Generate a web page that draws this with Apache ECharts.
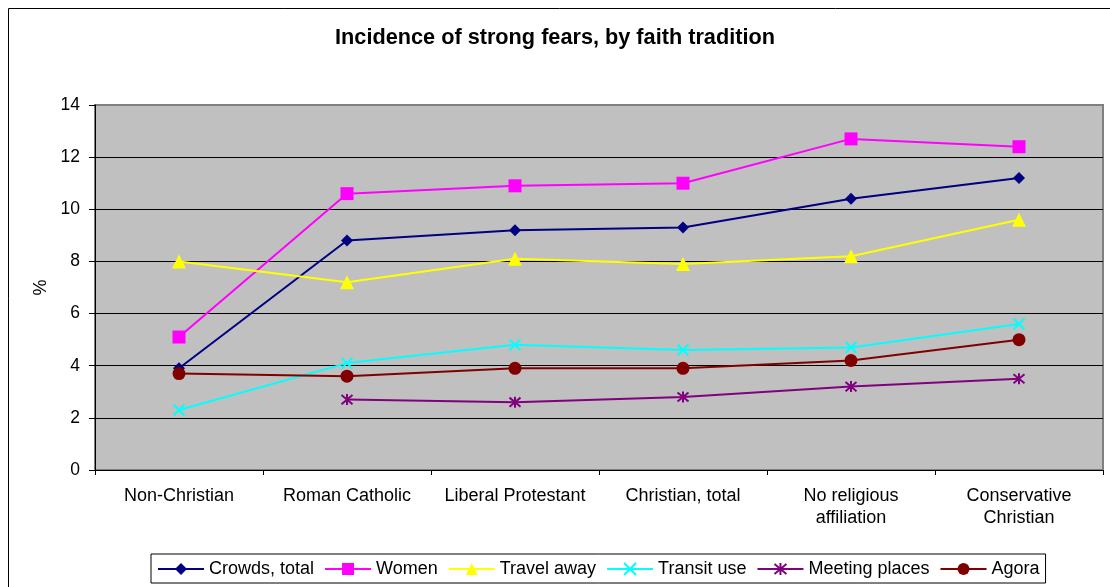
<!DOCTYPE html>
<html>
<head>
<meta charset="utf-8">
<title>Incidence of strong fears, by faith tradition</title>
<script src="https://cdn.jsdelivr.net/npm/echarts@6/dist/echarts.min.js"></script>
<style>
  html, body { margin: 0; padding: 0; background: #ffffff; }
  #chart { width: 1110px; height: 587px; }
</style>
</head>
<body>
<div id="chart"></div>
<script>
// Faith-tradition groups along the category axis
const categories = [
  'Non-Christian',
  'Roman Catholic',
  'Liberal Protestant',
  'Christian, total',
  'No religious\naffiliation',
  'Conservative\nChristian'
];

// Percentages for each fear, one value per group
const crowdsTotal   = [3.9, 8.8, 9.2, 9.3, 10.4, 11.2];
const women         = [5.1, 10.6, 10.9, 11.0, 12.7, 12.4];
const travelAway    = [8.0, 7.2, 8.1, 7.9, 8.2, 9.6];
const transitUse    = [2.3, 4.1, 4.8, 4.6, 4.7, 5.6];
const meetingPlaces = [null, 2.7, 2.6, 2.8, 3.2, 3.5];
const agora         = [3.7, 3.6, 3.9, 3.9, 4.2, 5.0];

const yTicks = { min: 0, max: 14, step: 2 };

const FONT = 'Liberation Sans, Arial, sans-serif';

// Stroked marker shapes: a cross and a six-armed asterisk
const CROSS = 'path://M0,0L10,10M10,0L0,10';
const STAR = 'path://M0,0L10,10M10,0L0,10M5,-1L5,11';

function lineSeries(name, data, color, symbol, size, stroked) {
  return {
    name: name,
    type: 'line',
    data: data,
    symbol: symbol,
    symbolSize: size,
    showSymbol: true,
    connectNulls: false,
    lineStyle: { color: color, width: 2 },
    itemStyle: stroked
      ? { color: 'rgba(0,0,0,0)', borderColor: color, borderWidth: 2 }
      : { color: color, borderWidth: 0 },
    emphasis: { disabled: true },
    z: 3
  };
}

const chart = echarts.init(document.getElementById('chart'));

chart.setOption({
  animation: false,
  backgroundColor: '#ffffff',
  textStyle: { fontFamily: FONT },
  title: {
    text: 'Incidence of strong fears, by faith tradition',
    left: 'center',
    top: 22,
    textStyle: { fontFamily: FONT, fontSize: 21.7, fontWeight: 'bold', color: '#000' }
  },
  graphic: [{
    type: 'rect',
    silent: true,
    shape: { x: 8.5, y: 8.5, width: 1200, height: 700 },
    style: { fill: 'none', stroke: '#000', lineWidth: 1 },
    z: -10
  }],
  grid: {
    left: 95, right: 7, top: 105, bottom: 117,
    show: true,
    backgroundColor: '#C0C0C0',
    borderColor: '#808080',
    borderWidth: 2
  },
  legend: {
    left: 151,
    top: 554,
    padding: [6, 6, 5, 6],
    itemGap: 10,
    itemWidth: 46,
    itemHeight: 15,
    borderColor: '#000',
    borderWidth: 1,
    backgroundColor: '#ffffff',
    textStyle: { fontFamily: FONT, fontSize: 18, color: '#000' },
    data: ['Crowds, total', 'Women', 'Travel away', 'Transit use', 'Meeting places', 'Agora']
  },
  xAxis: {
    type: 'category',
    data: categories,
    boundaryGap: true,
    axisLine: { lineStyle: { color: '#000', width: 1 } },
    axisTick: { show: true, alignWithLabel: false, length: 5, lineStyle: { color: '#000' } },
    axisLabel: {
      interval: 0,
      margin: 15,
      fontFamily: FONT,
      fontSize: 18,
      lineHeight: 22,
      color: '#000',
      align: 'center'
    },
    splitLine: { show: false }
  },
  yAxis: {
    type: 'value',
    min: yTicks.min,
    max: yTicks.max,
    interval: yTicks.step,
    name: '%',
    nameLocation: 'middle',
    nameGap: 42,
    nameRotate: 90,
    nameTextStyle: { fontFamily: FONT, fontSize: 18, color: '#000' },
    axisLine: { show: true, lineStyle: { color: '#000', width: 1 } },
    axisTick: { show: true, length: 6, lineStyle: { color: '#000' } },
    axisLabel: { margin: 15, fontFamily: FONT, fontSize: 17.5, color: '#000' },
    splitLine: { show: true, showMaxLine: false, lineStyle: { color: '#000', width: 1 } }
  },
  series: [
    lineSeries('Crowds, total', crowdsTotal, '#000080', 'diamond', 12, false),
    lineSeries('Women', women, '#FF00FF', 'rect', 13, false),
    lineSeries('Travel away', travelAway, '#FFFF00', 'triangle', 14, false),
    lineSeries('Transit use', transitUse, '#00FFFF', CROSS, 11, true),
    lineSeries('Meeting places', meetingPlaces, '#800080', STAR, 11, true),
    lineSeries('Agora', agora, '#800000', 'circle', 13, false)
  ]
});
</script>
</body>
</html>
